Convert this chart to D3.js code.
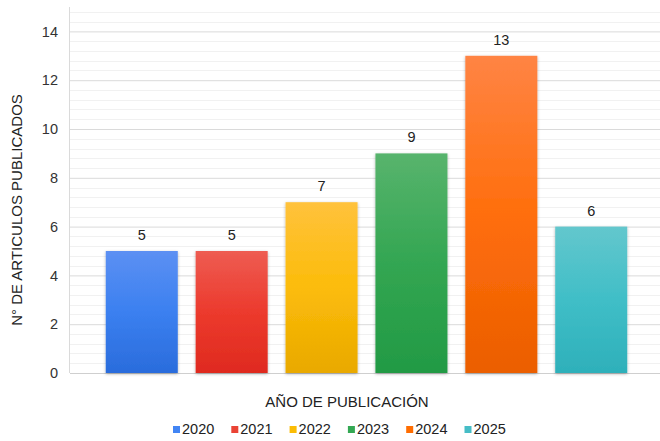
<!DOCTYPE html>
<html>
<head>
<meta charset="utf-8">
<script src="https://cdn.jsdelivr.net/npm/d3@7"></script>
<style>
  body { margin: 0; background: #fff; }
  svg { display: block; font-family: "Liberation Sans", Arial, sans-serif; }
</style>
</head>
<body>
<div id="chart"></div>
<script>
// data
const years = ['2020', '2021', '2022', '2023', '2024', '2025'];
const articles = [5, 5, 7, 9, 13, 6];
const yTicks = [0, 2, 4, 6, 8, 10, 12, 14];

// bar colours: [top, middle, bottom]
const colors = [
  ['#5c90f3', '#3b80f0', '#2a6cdc'],
  ['#ee5c52', '#ec3a2d', '#df2a1f'],
  ['#ffc23c', '#fcbc0a', '#e9a900'],
  ['#58b46d', '#33a652', '#229a44'],
  ['#ff8444', '#ff6e0c', '#eb5e00'],
  ['#63c7cd', '#40bec7', '#2eb0ba']
];
const legendColors = ['#4285f4', '#ea4335', '#fbbc04', '#34a853', '#ff6d01', '#46bdc6'];

const width = 660, height = 441;
const margin = { top: 7, right: 0, bottom: 68, left: 70 };

const svg = d3.select('#chart').append('svg')
  .attr('width', width)
  .attr('height', height);

const defs = svg.append('defs');
const shadow = defs.append('filter').attr('id', 'shadow')
  .attr('x', '-20%').attr('y', '-10%').attr('width', '140%').attr('height', '120%');
shadow.append('feDropShadow')
  .attr('dx', 0).attr('dy', 1).attr('stdDeviation', 1.6)
  .attr('flood-color', '#000').attr('flood-opacity', 0.3);

colors.forEach((c, i) => {
  const g = defs.append('linearGradient').attr('id', 'grad' + i)
    .attr('x1', 0).attr('y1', 0).attr('x2', 0).attr('y2', 1);
  g.append('stop').attr('offset', '0%').attr('stop-color', c[0]);
  g.append('stop').attr('offset', '50%').attr('stop-color', c[1]);
  g.append('stop').attr('offset', '100%').attr('stop-color', c[2]);
});

const x = d3.scaleBand()
  .domain(years)
  .range([margin.left, 663])
  .paddingInner(0.199)
  .paddingOuter(0.398);

const y = d3.scaleLinear()
  .domain([0, 15])
  .range([height - margin.bottom, margin.top]);

// minor gridlines every 0.4
const minor = d3.range(1, 38).filter(i => i % 5 !== 0).map(i => i * 0.4);
svg.append('g')
  .selectAll('line')
  .data(minor)
  .join('line')
  .attr('x1', margin.left).attr('x2', width)
  .attr('y1', d => Math.round(y(d)) + 0.5).attr('y2', d => Math.round(y(d)) + 0.5)
  .attr('stroke', '#f1f1f1');

// y axis with major gridlines
const yAxis = svg.append('g')
  .attr('transform', `translate(${margin.left},0)`)
  .call(d3.axisLeft(y).tickValues(yTicks).tickSize(-(width - margin.left)).tickPadding(12));
yAxis.select('.domain').remove();
yAxis.selectAll('.tick line')
  .attr('stroke', d => d === 0 ? '#cfcfcf' : '#dadada');
yAxis.selectAll('.tick text')
  .attr('fill', '#333')
  .style('font-size', '14.5px');

// vertical axis line
svg.append('line')
  .attr('x1', margin.left - 0.5).attr('x2', margin.left - 0.5)
  .attr('y1', y(15)).attr('y2', y(0))
  .attr('stroke', '#dadada');

// bars
svg.append('g')
  .selectAll('rect')
  .data(articles)
  .join('rect')
  .attr('x', (d, i) => x(years[i]))
  .attr('y', d => y(d))
  .attr('width', x.bandwidth())
  .attr('height', d => y(0) - y(d))
  .attr('fill', (d, i) => `url(#grad${i})`)
  .attr('filter', 'url(#shadow)');

// value labels
svg.append('g')
  .selectAll('text')
  .data(articles)
  .join('text')
  .attr('x', (d, i) => x(years[i]) + x.bandwidth() / 2)
  .attr('y', d => y(d) - 11)
  .attr('text-anchor', 'middle')
  .attr('fill', '#222')
  .style('font-size', '14.5px')
  .text(d => d);

// axis titles
svg.append('text')
  .attr('x', 347).attr('y', 407)
  .attr('text-anchor', 'middle')
  .attr('fill', '#222')
  .style('font-size', '15px')
  .text('AÑO DE PUBLICACIÓN');

svg.append('text')
  .attr('transform', 'translate(22,210) rotate(-90)')
  .attr('text-anchor', 'middle')
  .attr('fill', '#222')
  .style('font-size', '15px')
  .text('N° DE ARTICULOS PUBLICADOS');

// legend
const legend = svg.append('g')
  .selectAll('g')
  .data(years)
  .join('g')
  .attr('transform', (d, i) => `translate(${173 + i * 58.3},426)`);
legend.append('rect')
  .attr('width', 7).attr('height', 7)
  .attr('fill', (d, i) => legendColors[i]);
legend.append('text')
  .attr('x', 9).attr('y', 8)
  .attr('fill', '#222')
  .style('font-size', '14.5px')
  .text(d => d);
</script>
</body>
</html>
